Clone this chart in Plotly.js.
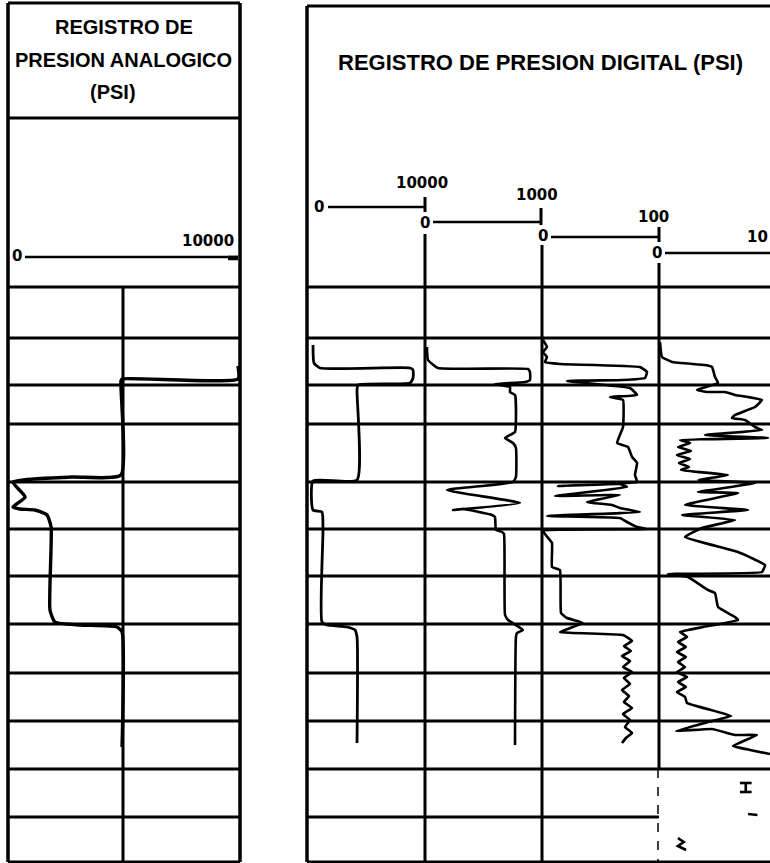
<!DOCTYPE html>
<html><head><meta charset="utf-8">
<script src="https://cdn.plot.ly/plotly-3.0.1.min.js"></script>
<style>html,body{margin:0;padding:0;background:#fff}#chart{width:770px;height:863px}</style>
</head><body><div id="chart"></div>
<script>
// ---------- data (depth = chart row units, values in PSI of each track scale) ----------
const analogPsi   = [10000,10000,4870,4820,4820,2650,40,580,40,350,1020,1550,1730,1680,1900,3010,4650,4870,4870];
const analogDepth = [366,379,379,381,475,477,482,497,507,509,510,515,527,610,622,625,627,632,747];

const dig10000Psi   = [0,90,625,8660,8930,8930,8660,4020,3930,3930,0,0,800,890,800,1250,3040,3750,3930,3930];
const dig10000Depth = [345,363,368,368,370,378,383,385,390,480,481,510,512,530,622,625,627,630,637,743];

const dig1000Psi   = [17,26,112,888,905,905,862,603,733,733,776,784,776,690,759,784,784,759,190,819,241,328,578,603,612,664,681,690,716,845,793,784,776];
const dig1000Depth = [347,360,368,369,372,380,382,384,387,392,395,420,432,438,443,448,477,482,490,503,510,509,515,517,530,532,534,615,620,630,633,637,745];

const dig100Psi = [1.7,5.1,1.7,5.1,3.4,16.2,84.6,90.6,88.9,70.1,22.2,76.1,82.1,59.0,70.1,70.1,65.0,74.4,77.8,82.1,80.3,82.1,14.5,67.5,73.5,12.0,67.5,39.3,44.4,60.7,67.5,84.6,5.1,67.5,73.5,82.1,90.6,1.7,9.4,9.4,16.2,17.1,22.2,35.9,16.2,70.1,
  77.8,70.9,76.9,69.2,76.1,70.1,77.8,70.9,76.1,69.2,75.2,70.9,77.8,70.1,76.1,71.8,77.8,72.6,69.2];
const dig100Depth = [340,347,352,357,362,364,367,372,378,380,381,388,395,397,400,427,443,447,457,463,475,482,486,484,487,496,495,502,503,505,508,512,516,518,522,527,529,531,543,567,570,613,618,623,632,635,
  641,646,651,656,661,667,672,678,684,690,696,702,708,714,720,727,733,738,743];

const dig10Psi = [0.17,0.34,1.2,4.02,4.62,4.87,5.13,3.33,4.19,5.73,6.58,7.69,8.89,8.29,6.58,6.32,7.44,8.29,8.89,4.02,9.4,1.88,2.74,1.71,2.82,1.62,2.74,1.79,2.65,1.97,5.98,3.42,8.29,3.42,6.84,2.31,7.69,2.05,6.58,3.76,2.31,6.84,9.15,8.89,0.85,2.56,4.27,4.87,5.13,6.58,6.84,3.85,1.88,
  2.48,1.71,2.39,1.62,2.39,1.71,2.31,1.62,2.48,1.71,2.39,1.62,2.31,2.48,6.24,4.27,1.54,4.62,6.58,8.46,6.41,7.86,9.57];
const dig10Depth = [342,357,362,365,367,377,383,390,392,392,395,397,400,407,415,418,420,427,430,435,438,440,443,447,451,455,459,463,467,470,475,480,483,492,493,505,510,515,520,528,537,552,565,572,574,577,590,593,607,617,620,627,632,
  637,642,647,652,657,662,667,672,677,682,687,692,697,703,716,722,731,729,735,735,746,750,754];

const dig10FragPsi   = [7.0,8.0,null,7.5,7.5,null,7.0,8.0,null,7.7,8.5,null,1.7,2.2,1.7,2.4];
const dig10FragDepth = [783,783,null,783,792,null,792,792,null,814,815,null,838,842,846,850];

const gridRows = [287,338,385,424,482,529,576,624,673,721,769,817,862];

// ---------- layout helpers ----------
const W = 770, H = 863;
const P = x => x / W;
function trackAxis(zeroPx, fullPx, fullVal, leftPx, rightPx) {
  const k = fullVal / (fullPx - zeroPx);
  return {domain:[P(leftPx), P(rightPx)], range:[(leftPx-zeroPx)*k, (rightPx-zeroPx)*k],
          visible:false, anchor:'y', fixedrange:true};
}
const INK = '#000';
function seg(x0,y0,x1,y1,w,dash){
  return {type:'line', xref:'paper', yref:'y', x0:P(x0), x1:P(x1), y0:y0, y1:y1,
          line:{color:INK, width:w||3, dash:dash||'solid'}, layer:'below'};
}
const shapes = [];
// left panel frame
shapes.push(seg(8,3,8,862,3.5), seg(240,3,240,862,3.5), seg(8,3,240,3,3), seg(8,118,240,118,3));
shapes.push(seg(123,287,123,862,3));
// right panel frame
shapes.push(seg(307,6,307,862,3.5), seg(307,6,770,6,3));
gridRows.forEach(r => {
  shapes.push(seg(8,r,240,r,3));
  if (r === 817) shapes.push(seg(307,r,659,r,3));
  else shapes.push(seg(307,r,770,r,3));
});
// track dividers
shapes.push(seg(425,234,425,862,3), seg(542,245,542,862,3), seg(659,263,659,769,3), seg(658,769,658,862,1.5,'dash'));
// scale lines and end ticks
shapes.push(seg(25,257,238,257,2.5), seg(228,258,238,258,4.5));
shapes.push(seg(328,207,425,207,2.5), seg(425,197,425,212,3));
shapes.push(seg(433,222,541,222,2.5), seg(541,208,541,225,3));
shapes.push(seg(551,237,658,237,2.5), seg(659,227,659,242,3));
shapes.push(seg(665,253,770,253,2.5));

function label(text, x, y, size, family, anchor){
  return {text:text, xref:'paper', yref:'y', x:P(x), y:y, showarrow:false,
          xanchor:anchor||'center', yanchor:'middle',
          font:{family:family, size:size, color:INK}};
}
const HF = '"Liberation Sans", Arial, sans-serif';
const NF = '"DejaVu Sans", sans-serif';
const annotations = [
  label('<b>REGISTRO DE</b>', 124, 27, 20, HF),
  label('<b>PRESION ANALOGICO</b>', 123, 60, 20, HF),
  label('<b>(PSI)</b>', 113, 92, 20, HF),
  label('<b>REGISTRO DE PRESION DIGITAL (PSI)</b>', 540, 62, 22, HF),
  label('<b>0</b>', 17, 256, 15, NF),
  label('<b>10000</b>', 208, 241, 15, NF),
  label('<b>0</b>', 319, 207, 15, NF),
  label('<b>10000</b>', 422, 183, 15, NF),
  label('<b>0</b>', 425, 223, 15, NF),
  label('<b>1000</b>', 537, 195, 15, NF),
  label('<b>0</b>', 543, 236, 15, NF),
  label('<b>100</b>', 653, 217, 15, NF),
  label('<b>0</b>', 657, 253, 15, NF),
  label('<b>10</b>', 770, 237, 15, NF, 'right')
];

function curve(x, y, axis, w, sm){
  return {type:'scatter', mode:'lines', x:x, y:y, xaxis:axis, yaxis:'y',
          line:{color:INK, width:w||2.6, shape: sm ? 'spline' : 'linear', smoothing: sm || 0},
          hoverinfo:'skip', showlegend:false, connectgaps:false};
}
const data = [
  curve(analogPsi, analogDepth, 'x', 3.4, 0.5),
  curve(dig10000Psi, dig10000Depth, 'x2', 2.8, 0.5),
  curve(dig1000Psi, dig1000Depth, 'x3', 2.6, 0.4),
  curve(dig100Psi, dig100Depth, 'x4', 2.6, 0.3),
  curve(dig10Psi, dig10Depth, 'x5', 2.6, 0.3),
  curve(dig10FragPsi, dig10FragDepth, 'x5', 2.6)
];

const layout = {
  width:W, height:H, margin:{l:0,r:0,t:0,b:0,pad:0},
  paper_bgcolor:'#fff', plot_bgcolor:'rgba(0,0,0,0)', showlegend:false,
  xaxis:  trackAxis(12, 238, 10000, 8, 240),
  xaxis2: trackAxis(313, 425, 10000, 307, 430),
  xaxis3: trackAxis(425, 541, 1000, 420, 545),
  xaxis4: trackAxis(541, 658, 100, 536, 662),
  xaxis5: trackAxis(658, 775, 10, 653, 770),
  yaxis: {domain:[0,1], range:[H,0], visible:false, fixedrange:true},
  shapes: shapes, annotations: annotations
};
Plotly.newPlot('chart', data, layout, {staticPlot:true, displayModeBar:false});
</script></body></html>
